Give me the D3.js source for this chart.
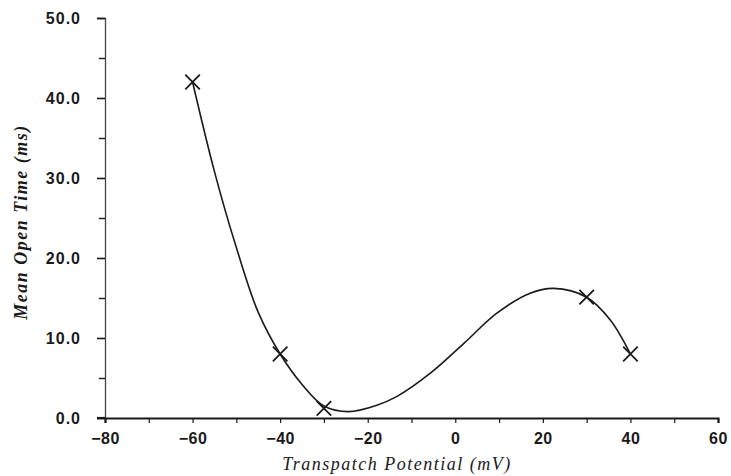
<!DOCTYPE html>
<html>
<head>
<meta charset="utf-8">
<script src="https://cdn.jsdelivr.net/npm/d3@7"></script>
<style>
  html, body { margin: 0; padding: 0; background: #fff; }
  svg { display: block; }
</style>
</head>
<body>
<svg id="chart" width="731" height="476"></svg>
<script>
// Measured data points (Transpatch Potential mV, Mean Open Time ms)
const potentials = [-60, -40, -30, 30, 40];
const openTimes  = [42, 8, 1.2, 15.1, 8];

// Fitted curve
const curveX = [-60, -55, -50, -45, -40, -35, -30, -24.4, -17.9, -13.3, -5.7, 1.9, 9.5, 17.1, 22.5, 30, 35.4, 40];
const curveY = [42, 30.8, 21.3, 13.2, 8, 4.2, 1.5, 0.8, 1.6, 2.7, 5.6, 9.3, 13.1, 15.6, 16.2, 15.1, 12.25, 8];

// Axis ticks
const xTicks = [-80, -60, -40, -20, 0, 20, 40, 60];
const xMinorTicks = [-70, -50, -30, -10, 10, 30, 50];
const yTicks = [0, 10, 20, 30, 40, 50];
const yMinorTicks = [5, 15, 25, 35, 45];

const xLabel = "Transpatch Potential (mV)";
const yLabel = "Mean Open Time (ms)";

const svg = d3.select("#chart");
const x = d3.scaleLinear().domain([-80, 60]).range([105, 718]);
const y = d3.scaleLinear().domain([0, 50]).range([418, 18]);

const ink = "#1a1a1a";
const tickFont = "'Liberation Sans', Arial, sans-serif";

// Y axis
const yAxis = svg.append("g").attr("transform", `translate(${x(-80)},0)`)
  .call(d3.axisLeft(y).tickValues(yTicks).tickSize(8).tickPadding(16).tickFormat(d3.format(".1f")));
yAxis.select(".domain").attr("stroke", "#444").attr("stroke-width", 1.3);
yAxis.selectAll(".tick line").attr("stroke", ink).attr("stroke-width", 1.6);
yAxis.selectAll(".tick text")
  .attr("fill", ink)
  .style("font-family", tickFont)
  .style("font-weight", "bold")
  .style("font-size", "16px")
  .style("letter-spacing", "1px");
svg.append("g").attr("transform", `translate(${x(-80)},0)`)
  .call(d3.axisLeft(y).tickValues(yMinorTicks).tickSize(6).tickFormat(""))
  .call(g => g.select(".domain").remove())
  .selectAll(".tick line").attr("stroke", ink).attr("stroke-width", 1.4);

// X axis
const xAxis = svg.append("g").attr("transform", `translate(0,${y(0)})`)
  .call(d3.axisBottom(x).tickValues(xTicks).tickSize(5).tickPadding(10).tickFormat(d => d < 0 ? "\u2212" + Math.abs(d) : d));
xAxis.select(".domain").attr("stroke", ink).attr("stroke-width", 2.2);
xAxis.selectAll(".tick line").attr("stroke", ink).attr("stroke-width", 1.2);
xAxis.selectAll(".tick text")
  .attr("fill", ink)
  .style("font-family", tickFont)
  .style("font-weight", "bold")
  .style("font-size", "16px")
  .style("letter-spacing", "0.5px");
svg.append("g").attr("transform", `translate(0,${y(0)})`)
  .call(d3.axisBottom(x).tickValues(xMinorTicks).tickSize(5).tickFormat(""))
  .call(g => g.select(".domain").remove())
  .selectAll(".tick line").attr("stroke", ink).attr("stroke-width", 1.2);
// extend baseline slightly left, like the original
svg.append("line")
  .attr("x1", x(-80) - 8).attr("x2", x(-80))
  .attr("y1", y(0)).attr("y2", y(0))
  .attr("stroke", ink).attr("stroke-width", 2.2);

// Curve
const curvePts = curveX.map((d, i) => [d, curveY[i]]);
svg.append("path")
  .datum(curvePts)
  .attr("fill", "none")
  .attr("stroke", ink)
  .attr("stroke-width", 1.6)
  .attr("d", d3.line().x(d => x(d[0])).y(d => y(d[1])).curve(d3.curveCatmullRom.alpha(0.5)));

// X markers
const pts = potentials.map((d, i) => [d, openTimes[i]]);
svg.append("g").selectAll("path")
  .data(pts)
  .join("path")
  .attr("transform", d => `translate(${x(d[0])},${y(d[1])})`)
  .attr("d", d3.symbol(d3.symbolX, 140))
  .attr("fill", "none")
  .attr("stroke", ink)
  .attr("stroke-width", 1.8);

// Axis labels
svg.append("text")
  .attr("x", 397).attr("y", 470)
  .attr("text-anchor", "middle")
  .attr("fill", ink)
  .style("font-family", "'Liberation Serif', 'Times New Roman', serif")
  .style("font-style", "italic")
  .style("font-size", "18px")
  .style("letter-spacing", "1.5px")
  .text(xLabel);

svg.append("text")
  .attr("transform", "translate(27,222) rotate(-90)")
  .attr("text-anchor", "middle")
  .attr("fill", ink)
  .style("font-family", "'Liberation Serif', 'Times New Roman', serif")
  .style("font-style", "italic")
  .style("font-weight", "bold")
  .style("font-size", "18px")
  .style("letter-spacing", "1.5px")
  .text(yLabel);
</script>
</body>
</html>
